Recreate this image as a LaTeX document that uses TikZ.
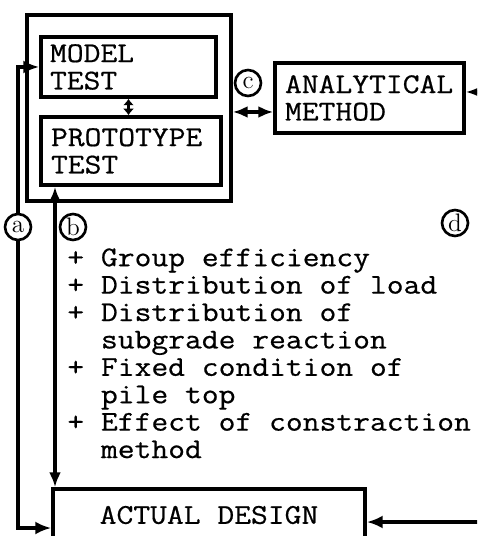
\documentclass[tikz,border=0pt]{standalone}
\usepackage{fontspec}
\newfontfamily\typew{Latin Modern Mono}[FakeBold=0.6,FakeStretch=1.14]
\usetikzlibrary{arrows.meta}
\usetikzlibrary{calc}

\begin{document}
\begin{tikzpicture}[x=0.02cm,y=-0.02cm,
	box/.style={draw,line width=2pt,rectangle,align=left,inner ysep=0pt,font=\typew\fontsize{16.3}{15.6}\selectfont},
	lbl/.style={draw,circle,line width=1.5pt,inner sep=0pt,minimum size=0.52cm,font=\Large},
	con/.style={line width=2pt,-{Latex[length=0.32cm,width=0.26cm]}},
	dbl/.style={line width=2pt,{Latex[length=0.3cm,width=0.24cm]}-{Latex[length=0.3cm,width=0.24cm]}},
	dblsmall/.style={line width=2pt,{Latex[length=0.13cm,width=0.22cm]}-{Latex[length=0.13cm,width=0.22cm]}}]

	\useasboundingbox (0,0) rectangle (477,536);
	\clip (0,0) rectangle (477,536);

	\node[draw,line width=2pt,inner sep=0pt,minimum width=4.08cm,minimum height=3.72cm] (lab) at (129,108) {};
	\node[box,inner xsep=0.18cm,text width=3.14cm,minimum height=1.2cm] (model) at (128.5,67) {MODEL\\TEST};
	\node[box,inner xsep=0.2cm,text width=3.2cm,minimum height=1.36cm] (proto) at (131,151) {PROTOTYPE\\TEST};
	\node[box,inner xsep=0.2cm,text width=3.38cm,minimum height=1.4cm] (ana) at (369.5,98) {ANALYTICAL\\METHOD};
	\node[box,align=center,inner xsep=0pt,minimum width=6.24cm,minimum height=1.04cm] (design) at (209,515) {ACTUAL DESIGN};

	\node[anchor=north west,align=left,inner sep=0pt,font=\typew\fontsize{16.3}{15.6}\selectfont] (items) at (67,248)
		{+ Group efficiency\\
		 + Distribution of load\\
		 + Distribution of\\
		 \hphantom{++}subgrade reaction\\
		 + Fixed condition of\\
		 \hphantom{++}pile top\\
		 + Effect of constraction\\
		 \hphantom{++}method};

	\node[lbl] (a) at (18,227) {a};
	\node[lbl] (b) at (73,227) {b};
	\node[lbl] (c) at (248,83) {c};
	\node[lbl] (d) at (455,223) {d};

	\coordinate (bx) at (55,0);
	\coordinate (cy) at ([yshift=-0.28cm]ana.west);
	\coordinate (dtop) at (480,92);
	\coordinate (dbot) at (480,522);

	\draw[con] (a) |- (model.west);
	\draw[con] (a) |- ([yshift=-0.26cm]design.west);
	\draw[dbl] (proto.south -| bx) -- (design.north -| bx);
	\draw[dblsmall] (model.south) -- (model.south |- proto.north);
	\draw[dbl] (cy -| lab.east) -- (cy);
	\draw[con] (dtop) -- (dtop -| ana.east);
	\draw[con] (dbot) -- (dbot -| design.east);
\end{tikzpicture}
\end{document}
